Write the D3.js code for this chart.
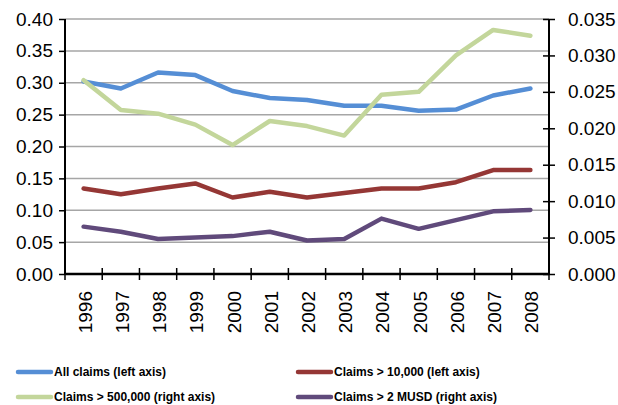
<!DOCTYPE html>
<html lang="en">
<head>
    <meta charset="UTF-8">
    <title>Claims frequency 1996-2008</title>
    <script src="https://d3js.org/d3.v7.min.js"></script>
    <style>
        body {
            margin: 0;
            background-color: white;
            font-family: Arial, "Liberation Sans", sans-serif;
        }
        svg {
            display: block;
        }
        .legend text {
            font-size: 12px;
            font-weight: bold;
        }
    </style>
</head>
<body>
<svg></svg>
<script>
    // data
    const years = ["1996", "1997", "1998", "1999", "2000", "2001", "2002",
        "2003", "2004", "2005", "2006", "2007", "2008"];
    const allClaims = [0.302, 0.291, 0.316, 0.312, 0.287, 0.276, 0.273,
        0.264, 0.264, 0.256, 0.258, 0.280, 0.291];
    const claims10k = [0.134, 0.125, 0.134, 0.142, 0.120, 0.129, 0.120,
        0.127, 0.134, 0.134, 0.144, 0.163, 0.163];
    const claims500k = [0.0266, 0.0225, 0.0220, 0.0205, 0.0177, 0.0210, 0.0203,
        0.0190, 0.0246, 0.0250, 0.0300, 0.0335, 0.0327];
    const claims2musd = [0.0065, 0.0058, 0.0048, 0.0050, 0.0052, 0.0058, 0.0046,
        0.0048, 0.0076, 0.0062, 0.0074, 0.0086, 0.0088];
    const leftTicks = [0, 0.05, 0.10, 0.15, 0.20, 0.25, 0.30, 0.35, 0.40];
    const rightTicks = [0, 0.005, 0.010, 0.015, 0.020, 0.025, 0.030, 0.035];

    const series = [
        {name: "All claims (left axis)", values: allClaims, axis: "left", color: "#558ed5"},
        {name: "Claims > 10,000 (left axis)", values: claims10k, axis: "left", color: "#953735"},
        {name: "Claims > 500,000 (right axis)", values: claims500k, axis: "right", color: "#c3d69b"},
        {name: "Claims > 2 MUSD (right axis)", values: claims2musd, axis: "right", color: "#604a7b"}
    ];

    const W = 618, H = 405;
    const plot = {left: 65, right: 549, top: 19, bottom: 274};

    const svg = d3.select("svg")
        .attr("width", W)
        .attr("height", H);

    const x = d3.scaleBand()
        .domain(years)
        .range([plot.left, plot.right]);
    const yLeft = d3.scaleLinear()
        .domain([0, 0.40])
        .range([plot.bottom, plot.top]);
    const yRight = d3.scaleLinear()
        .domain([0, 0.035])
        .range([plot.bottom, plot.top]);

    // gridlines on the left axis ticks
    svg.append("g")
        .selectAll("line")
        .data(leftTicks.filter(d => d > 0))
        .join("line")
        .attr("x1", plot.left)
        .attr("x2", plot.right)
        .attr("y1", d => yLeft(d))
        .attr("y2", d => yLeft(d))
        .attr("stroke", "#a6a6a6")
        .attr("stroke-width", 1.5);

    // left axis
    const leftAxis = svg.append("g")
        .attr("transform", `translate(${plot.left},0)`)
        .call(d3.axisLeft(yLeft).tickValues(leftTicks).tickFormat(d3.format(".2f"))
            .tickSize(6).tickPadding(6));
    leftAxis.select(".domain").remove();
    leftAxis.selectAll(".tick line").attr("stroke", "#000").attr("stroke-width", 1.5);
    leftAxis.selectAll("text").attr("font-size", "19px").attr("font-family", "Arial, 'Liberation Sans', sans-serif").attr("fill", "#000");

    // right axis
    const rightAxis = svg.append("g")
        .attr("transform", `translate(${plot.right},0)`)
        .call(d3.axisRight(yRight).tickValues(rightTicks).tickFormat(d3.format(".3f"))
            .tickSize(6).tickPadding(13));
    rightAxis.select(".domain").remove();
    rightAxis.selectAll(".tick line").attr("x1", -6).attr("stroke", "#000").attr("stroke-width", 1.5);
    rightAxis.selectAll("text").attr("font-size", "19px").attr("font-family", "Arial, 'Liberation Sans', sans-serif").attr("fill", "#000");

    // x axis ticks at band edges
    const edges = years.map(d => x(d)).concat([x(years[years.length - 1]) + x.bandwidth()]);
    svg.append("g")
        .selectAll("line")
        .data(edges)
        .join("line")
        .attr("x1", d => d)
        .attr("x2", d => d)
        .attr("y1", plot.bottom - 6)
        .attr("y2", plot.bottom + 6)
        .attr("stroke", "#000")
        .attr("stroke-width", 1.5);

    // year labels, rotated
    svg.append("g")
        .selectAll("text")
        .data(years)
        .join("text")
        .attr("transform", d => `translate(${x(d) + x.bandwidth() / 2 + 8},${plot.bottom + 17}) rotate(-90)`)
        .attr("text-anchor", "end")
        .attr("font-size", "19px")
        .text(d => d);

    // axis lines
    svg.append("line")
        .attr("x1", plot.left).attr("x2", plot.left)
        .attr("y1", plot.top).attr("y2", plot.bottom)
        .attr("stroke", "#000").attr("stroke-width", 2);
    svg.append("line")
        .attr("x1", plot.right).attr("x2", plot.right)
        .attr("y1", plot.top).attr("y2", plot.bottom)
        .attr("stroke", "#000").attr("stroke-width", 2);
    svg.append("line")
        .attr("x1", plot.left).attr("x2", plot.right)
        .attr("y1", plot.bottom).attr("y2", plot.bottom)
        .attr("stroke", "#000").attr("stroke-width", 2.5);

    // data lines
    svg.append("g")
        .selectAll("path")
        .data(series)
        .join("path")
        .attr("fill", "none")
        .attr("stroke", d => d.color)
        .attr("stroke-width", 4.5)
        .attr("stroke-linecap", "round")
        .attr("stroke-linejoin", "round")
        .attr("d", s => {
            const yScale = s.axis === "left" ? yLeft : yRight;
            return d3.line()
                .x((v, i) => x(years[i]) + x.bandwidth() / 2)
                .y(v => yScale(v))(s.values);
        });

    // legend, two columns
    const legend = svg.append("g").attr("class", "legend");
    const legendPos = [[18, 372], [298, 372], [18, 397], [298, 397]];
    series.forEach((s, i) => {
        const [lx, ly] = legendPos[i];
        legend.append("line")
            .attr("x1", lx).attr("x2", lx + 33)
            .attr("y1", ly).attr("y2", ly)
            .attr("stroke", s.color)
            .attr("stroke-width", 4.5)
            .attr("stroke-linecap", "round");
        legend.append("text")
            .attr("x", lx + 36)
            .attr("y", ly)
            .attr("dy", "0.35em")
            .text(s.name);
    });
</script>
</body>
</html>
